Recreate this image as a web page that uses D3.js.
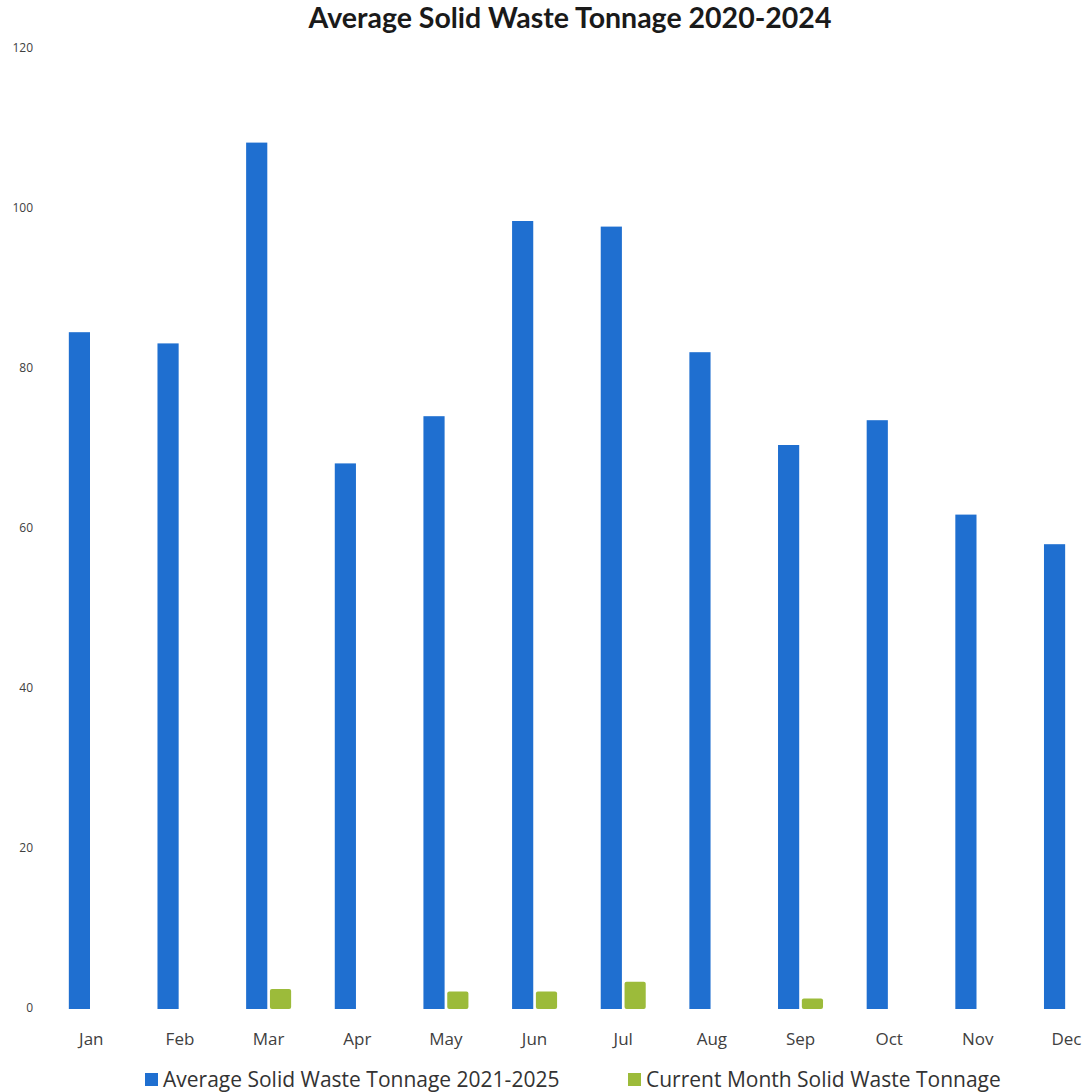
<!DOCTYPE html>
<html>
<head>
<meta charset="utf-8">
<script src="https://cdn.jsdelivr.net/npm/d3@7"></script>
<style>
  html, body { margin: 0; padding: 0; background: #ffffff; }
  svg { display: block; }
</style>
</head>
<body>
<svg id="chart" width="1083" height="1092"></svg>
<script>
// Monthly categories
const months = ["Jan", "Feb", "Mar", "Apr", "May", "Jun", "Jul", "Aug", "Sep", "Oct", "Nov", "Dec"];

// Five-year average tonnage per month
const averageTonnage = [84.6, 83.2, 108.3, 68.2, 74.1, 98.5, 97.8, 82.1, 70.5, 73.6, 61.8, 58.1];

// Current-month tonnage (months without a report are 0)
const currentTonnage = [0, 0, 2.5, 0, 2.2, 2.2, 3.4, 0, 1.3, 0, 0, 0];

// Y axis tick values
const yTicks = [0, 20, 40, 60, 80, 100, 120];

const seriesNames = ["Average Solid Waste Tonnage 2021-2025", "Current Month Solid Waste Tonnage"];
const seriesColors = ["#1f6fd0", "#9cbb3a"];
const titleText = "Average Solid Waste Tonnage 2020-2024";

const svg = d3.select("#chart");

const y = d3.scaleLinear().domain([0, 120]).range([1008, 48]);

const x = d3.scaleBand()
  .domain(months)
  .range([47, 47 + 12 * 88.65])
  .paddingInner(0)
  .paddingOuter(0);

const groupWidth = 45;
const xSub = d3.scaleBand()
  .domain([0, 1])
  .range([0, groupWidth])
  .paddingInner(5 / 45);

// Title
svg.append("text")
  .attr("x", 570)
  .attr("y", 28)
  .attr("text-anchor", "middle")
  .style("font-family", "Lato, 'Open Sans', sans-serif")
  .style("font-weight", 700)
  .style("font-size", "28.5px")
  .attr("fill", "#1a1a1a")
  .text(titleText);

// Y axis labels only (no line, no ticks)
const yAxis = d3.axisLeft(y).tickValues(yTicks).tickSize(0).tickPadding(0);
const yg = svg.append("g").attr("transform", "translate(33,0)").call(yAxis);
yg.select(".domain").remove();
yg.selectAll("text")
  .style("font-family", "'Open Sans', sans-serif")
  .style("font-size", "12px")
  .attr("fill", "#404040");

// X axis labels
const xAxis = d3.axisBottom(x).tickSize(0).tickPadding(0);
const xg = svg.append("g").attr("transform", "translate(0,1033)").call(xAxis);
xg.select(".domain").remove();
xg.selectAll("text")
  .style("font-family", "'Open Sans', sans-serif")
  .style("font-size", "17px")
  .attr("fill", "#404040");

// Bars
const series = [averageTonnage, currentTonnage];
const groups = svg.append("g").selectAll("g")
  .data(months)
  .join("g")
  .attr("transform", d => `translate(${x(d) + (x.bandwidth() - groupWidth) / 2},0)`);

groups.selectAll("rect")
  .data((m, i) => series.map((s, k) => ({ k, v: s[i] })).filter(d => d.v > 0))
  .join("rect")
  .attr("x", d => xSub(d.k))
  .attr("width", xSub.bandwidth())
  .attr("y", d => y(d.v) + 1)
  .attr("height", d => y(0) - y(d.v))
  .attr("rx", d => d.k === 1 ? 2 : 0)
  .attr("fill", d => seriesColors[d.k]);

// Legend
const legendItems = [
  { name: seriesNames[0], color: seriesColors[0], x: 145 },
  { name: seriesNames[1], color: seriesColors[1], x: 628 }
];
const lg = svg.append("g").selectAll("g")
  .data(legendItems)
  .join("g")
  .attr("transform", d => `translate(${d.x},1073)`);
lg.append("rect")
  .attr("width", 13)
  .attr("height", 13)
  .attr("fill", d => d.color);
lg.append("text")
  .attr("x", 18)
  .attr("y", 14)
  .style("font-family", "'Open Sans', sans-serif")
  .style("font-size", "21px")
  .attr("fill", "#333333")
  .text(d => d.name);
</script>
</body>
</html>
